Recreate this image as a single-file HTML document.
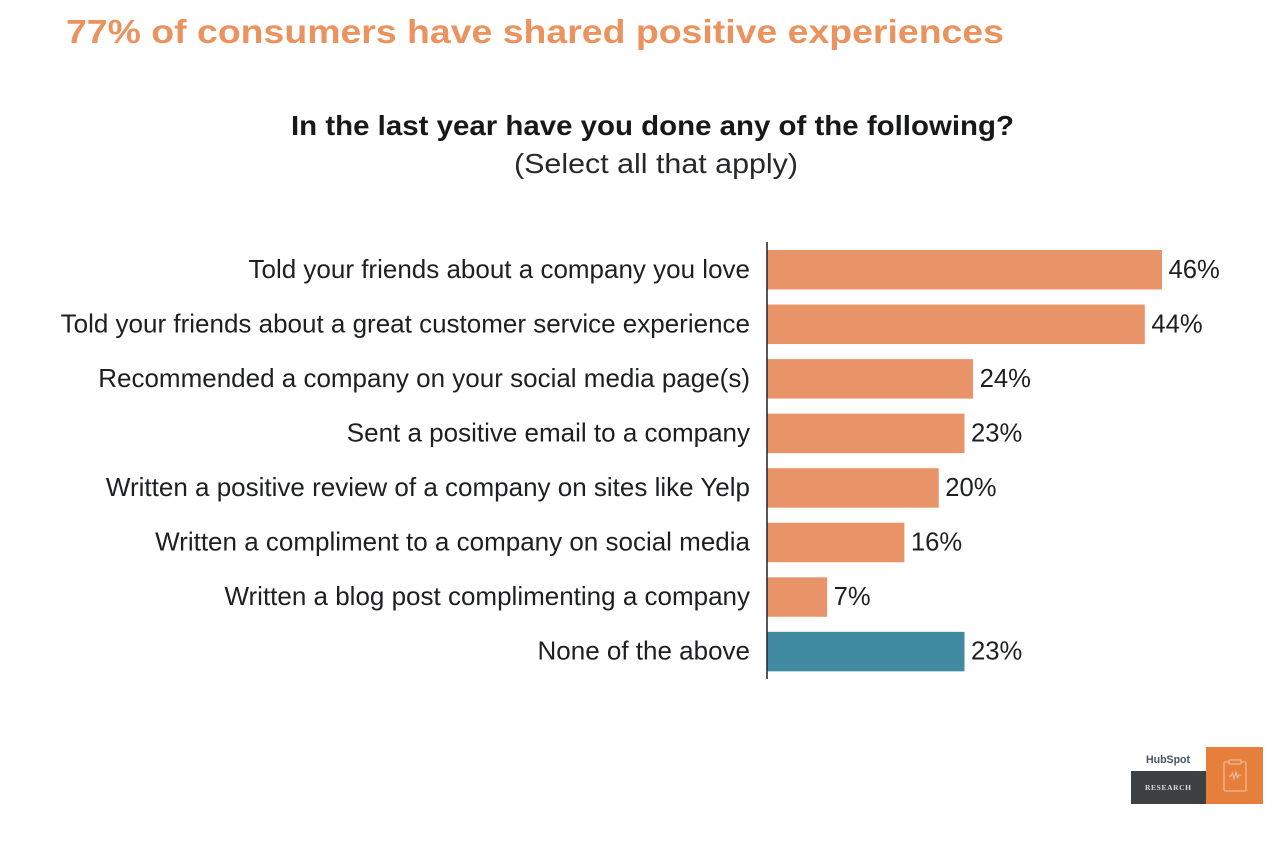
<!DOCTYPE html>
<html lang="en">
<head>
<meta charset="utf-8">
<title>77% of consumers have shared positive experiences</title>
<style>
html,body{margin:0;padding:0;background:#fff;width:1272px;height:842px;overflow:hidden}
svg{display:block;font-family:"Liberation Sans",sans-serif}
</style>
</head>
<body>
<svg id="chart" xmlns="http://www.w3.org/2000/svg" width="1272" height="842" viewBox="0 0 1272 842">
  <rect width="1272" height="842" fill="#ffffff"/>
  <text x="66" y="43" font-size="33" font-weight="700" fill="#ea935f" textLength="938" lengthAdjust="spacingAndGlyphs">77% of consumers have shared positive experiences</text>
  <text x="291" y="135" font-size="28" font-weight="700" fill="#16181a" textLength="723" lengthAdjust="spacingAndGlyphs">In the last year have you done any of the following?</text>
  <text x="514" y="173" font-size="28" fill="#26282a" textLength="284" lengthAdjust="spacingAndGlyphs">(Select all that apply)</text>
  <g id="bars"></g>
  <g id="labels"></g>
  <g id="values"></g>
  <line x1="767" y1="242" x2="767" y2="679" stroke="#2b2d2f" stroke-width="1.6"/>
  <g>
    <text x="1146" y="763" font-size="11" font-weight="700" fill="#46535f" textLength="44" lengthAdjust="spacingAndGlyphs">HubSpot</text>
    <rect x="1131" y="771" width="75" height="33" fill="#3d4144"/>
    <text x="1145" y="790" font-size="7.5" font-weight="700" fill="#d9d9d9" font-family="Liberation Serif, serif" textLength="46" lengthAdjust="spacing">RESEARCH</text>
    <rect x="1206" y="747" width="57" height="57" fill="#e67e3c"/>
    <rect x="1224" y="762" width="22" height="29" rx="1" fill="none" stroke="#f5c7a6" stroke-width="1"/>
    <rect x="1229" y="760" width="12" height="4" rx="1" fill="#e67e3c" stroke="#f5c7a6" stroke-width="1"/>
    <path d="M1229 776l2 0 1.500-3 1.500 6 2-7 1.500 6 1.500-3 2 0" fill="none" stroke="#f5c7a6" stroke-width="1"/>
  </g>
</svg>
<script>
const categories = [
  "Told your friends about a company you love",
  "Told your friends about a great customer service experience",
  "Recommended a company on your social media page(s)",
  "Sent a positive email to a company",
  "Written a positive review of a company on sites like Yelp",
  "Written a compliment to a company on social media",
  "Written a blog post complimenting a company",
  "None of the above"
];
const values = [46, 44, 24, 23, 20, 16, 7, 23];
const highlightCategories = ["None of the above"];

const NS = "http://www.w3.org/2000/svg";
const xOrigin = 767;
const xPerPercent = 8.587;
const firstBandTop = 250;
const bandStep = 54.55;
const barHeight = 39.5;
const xScale = v => xOrigin + v * xPerPercent;
const yScale = i => firstBandTop + i * bandStep;

const barsGroup = document.getElementById("bars");
const labelsGroup = document.getElementById("labels");
const valuesGroup = document.getElementById("values");

categories.forEach((category, i) => {
  const value = values[i];
  const centerY = yScale(i) + barHeight / 2;

  const bar = document.createElementNS(NS, "rect");
  
  
  bar.setAttribute("x", xOrigin);
  bar.setAttribute("y", yScale(i));
  bar.setAttribute("width", xScale(value) - xOrigin);
  bar.setAttribute("height", barHeight);
  bar.setAttribute("fill", highlightCategories.includes(category) ? "#418ba2" : "#e99369");
  barsGroup.appendChild(bar);

  const label = document.createElementNS(NS, "text");
  
  
  label.setAttribute("x", 750);
  label.setAttribute("y", centerY + 8);
  label.setAttribute("text-anchor", "end");
  label.setAttribute("font-size", "26");
  label.setAttribute("fill", "#1d1f21");
  label.textContent = category;
  labelsGroup.appendChild(label);

  const valueLabel = document.createElementNS(NS, "text");
  
  
  valueLabel.setAttribute("x", xScale(value) + 6.5);
  valueLabel.setAttribute("y", centerY + 8);
  valueLabel.setAttribute("font-size", "26");
  valueLabel.setAttribute("fill", "#1d1f21");
  valueLabel.textContent = value + "%";
  valuesGroup.appendChild(valueLabel);
  valueLabel.setAttribute("textLength", (valueLabel.getComputedTextLength() * 0.985).toFixed(1));
  valueLabel.setAttribute("lengthAdjust", "spacingAndGlyphs");
});
</script>
</body>
</html>
